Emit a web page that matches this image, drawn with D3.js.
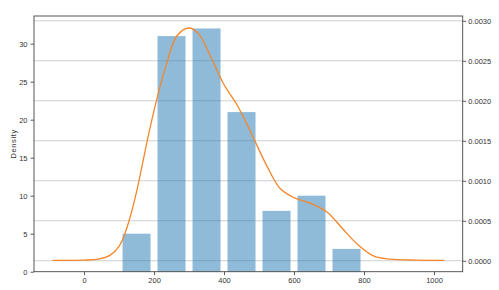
<!DOCTYPE html>
<html><head><meta charset="utf-8">
<script src="https://cdn.jsdelivr.net/npm/d3@7"></script>
<style>body{margin:0;background:#fff}svg{display:block}text{font-family:"Liberation Sans",Arial,sans-serif;fill:#333}</style>
</head><body>
<script>
// Histogram bins (centers) and counts
const binCenters = [150, 250, 350, 450, 550, 650, 750];
const counts = [5, 31, 32, 21, 8, 10, 3];
const binWidth = 80;
// KDE curve
const kdeX = [-90, 0, 40, 75, 100, 115, 132, 151, 165, 184, 208, 237, 265, 299, 327, 361, 399, 437, 475, 523, 561, 600, 646, 694, 741, 780, 827, 875, 950, 1030];
const kdeY = [0.000005, 0.000008, 0.00002, 0.00007, 0.00018, 0.00032, 0.00055, 0.00088, 0.00117, 0.00157, 0.00202, 0.00248, 0.00281, 0.00291, 0.00284, 0.00256, 0.00221, 0.00195, 0.00162, 0.00118, 0.00090, 0.00079, 0.00072, 0.00061, 0.00039, 0.00021, 0.00006, 0.00002, 0.000008, 0.000005];
const xTicks = [0, 200, 400, 600, 800, 1000];
const leftTicks = [0, 5, 10, 15, 20, 25, 30];
const rightTicks = [0, 0.0005, 0.001, 0.0015, 0.002, 0.0025, 0.003];

const W = 499, H = 290;
const L = 34, R = 462.7, T = 16, B = 271.7;
const svg = d3.select("body").append("svg").attr("width", W).attr("height", H);

const x = d3.scaleLinear().domain([-143, 1082]).range([L, R]);
const yL = d3.scaleLinear().domain([0, 33.64]).range([B, T]);
const yR = d3.scaleLinear().domain([-0.000137, 0.00306]).range([B, T]);

// gridlines (from right axis)
svg.append("g").selectAll("line").data(rightTicks).join("line")
  .attr("x1", L).attr("x2", R)
  .attr("y1", d => yR(d)).attr("y2", d => yR(d))
  .attr("stroke", "#cfcfcf").attr("stroke-width", 1);

// bars
svg.append("g").selectAll("rect").data(binCenters).join("rect")
  .attr("x", (d) => x(d - binWidth / 2))
  .attr("width", (d) => x(d + binWidth / 2) - x(d - binWidth / 2))
  .attr("y", (d, i) => yL(counts[i]))
  .attr("height", (d, i) => yL(0) - yL(counts[i]))
  .attr("fill", "#1f77b4").attr("fill-opacity", 0.5);

// KDE curve
const line = d3.line().x(d => x(d[0])).y(d => yR(d[1])).curve(d3.curveCatmullRom.alpha(0.5));
svg.append("path").datum(kdeX.map((v, i) => [v, kdeY[i]]))
  .attr("d", line).attr("fill", "none").attr("stroke", "#f5862a").attr("stroke-width", 1.3);

// axes
const fs = "7.5px";
const gx = svg.append("g").attr("transform", `translate(0,${B})`)
  .call(d3.axisBottom(x).tickValues(xTicks).tickSize(3.5).tickPadding(2).tickFormat(d3.format("d")));
const gl = svg.append("g").attr("transform", `translate(${L},0)`)
  .call(d3.axisLeft(yL).tickValues(leftTicks).tickSize(3.5).tickPadding(3).tickFormat(d3.format("d")));
const gr = svg.append("g").attr("transform", `translate(${R},0)`)
  .call(d3.axisRight(yR).tickValues(rightTicks).tickSize(3.5).tickPadding(2).tickFormat(d3.format(".4f")));
[gx, gl, gr].forEach(g => {
  g.select(".domain").remove();
  g.selectAll("line").attr("stroke", "#333").attr("stroke-width", 0.8);
  g.selectAll("text").attr("font-size", fs).attr("fill", "#333");
});

// frame
svg.append("rect").attr("x", L).attr("y", T).attr("width", R - L).attr("height", B - T)
  .attr("fill", "none").attr("stroke", "#444").attr("stroke-width", 0.9);

// y label
svg.append("text").attr("transform", `translate(14,${(T + B) / 2}) rotate(-90)`)
  .attr("text-anchor", "middle").attr("dominant-baseline", "middle")
  .attr("font-size", fs).attr("letter-spacing", "0.6px").text("Density");
</script>
</body></html>
